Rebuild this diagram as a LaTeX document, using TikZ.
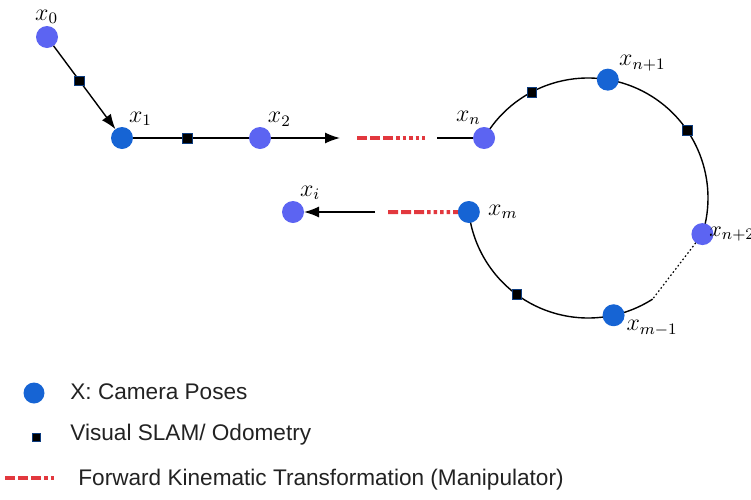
\documentclass[tikz,border=0pt]{standalone}
\usepackage{fontspec}
\setmainfont{Liberation Sans}
\usetikzlibrary{arrows.meta}
\definecolor{darkpose}{RGB}{22, 100, 212}
\definecolor{lightpose}{RGB}{92, 100, 242}
\definecolor{fkred}{RGB}{226, 56, 62}
\definecolor{legendtext}{RGB}{34, 34, 34}

\begin{document}
\begin{tikzpicture}[
    x=0.5pt, y=0.5pt,
    pose/.style={
        circle,
        minimum size=11pt,
        inner sep=0pt,
        outer sep=0pt
    },
    darkp/.style={pose, fill=darkpose},
    lightp/.style={pose, fill=lightpose},
    odo/.style={
        draw=darkpose!60!black,
        fill=black,
        line width=0.3pt,
        minimum size=4.8pt,
        inner sep=0pt
    },
    link/.style={line width=0.7pt, black},
    arrowlink/.style={link, -{Latex[length=7.5pt, width=5.5pt]}},
    fk/.style={
        line width=2pt,
        fkred,
        dash pattern=on 5pt off 1.5pt on 5pt off 1.5pt on 5pt off 1.5pt
                     on 1.75pt off 1.5pt on 1.75pt off 1.5pt on 1.75pt off 1.5pt on 1.75pt off 1.5pt
    },
    lbl/.style={font=\fontsize{12}{14}\selectfont, inner sep=1pt, label distance=0pt},
    txt/.style={font=\fontsize{11.3}{13.5}\selectfont, text=legendtext, anchor=west, inner sep=0pt}
]
\useasboundingbox (0,0) rectangle (751,-499);

% loop around the centre
\coordinate (C) at (588,-198);
\coordinate (P) at ([shift={(-57.4:120)}]C);
\draw[link] ([shift={(150:120)}]C) arc[start angle=150, end angle=-17.5, radius=60pt];
\draw[link] (P) arc[start angle=-57.4, end angle=-173.3, radius=60pt];

% camera poses
\node[lightp, label={[lbl]92:$x_0$}] (x0) at (47,-37) {};
\node[darkp, label={[lbl]65:$x_1$}] (x1) at (122,-138) {};
\node[lightp, label={[lbl]60:$x_2$}] (x2) at (260,-138) {};
\node[lightp, label={[lbl]95:$x_n$}] (xn) at ([shift={(150:120)}]C) {};
\node[darkp, label={[lbl]35:$x_{n+1}$}] (xn1) at ([shift={(80.5:120)}]C) {};
\node[lightp, label={[lbl, font=\fontsize{11}{13}\selectfont, inner sep=0.3pt, label distance=-2.5pt]0:$x_{n+2}$}] (xn2) at ([shift={(-17.5:120)}]C) {};
\node[darkp, label={[lbl]-15:$x_{m-1}$}] (xm1) at ([shift={(-77.7:120)}]C) {};
\node[darkp, label={[lbl, label distance=3pt]0:$x_m$}] (xm) at ([shift={(186.7:120)}]C) {};
\node[lightp, label={[lbl]65:$x_i$}] (xi) at (293,-212) {};

% odometry marks on the loop
\node[odo] (o3) at ([shift={(118:120)}]C) {};
\node[odo] (o4) at ([shift={(34.4:120)}]C) {};
\node[odo] (o5) at ([shift={(-126.4:120)}]C) {};

% free ends
\coordinate (a2) at (340,-138);
\coordinate (f1) at (357,-138);
\coordinate (f2) at (425,-138);
\coordinate (a3) at (437,-138);
\coordinate (b1) at (375,-212);
\coordinate (f3) at (388,-212);

\draw[arrowlink] (x0) -- node[odo, pos=0.42] (o1) {} (x1);
\draw[link] (x1) -- node[odo, pos=0.47] (o2) {} (x2);
\draw[arrowlink] (x2) -- (a2);
\draw[fk] (f1) -- (f2);
\draw[link] (a3) -- (xn);
\draw[link, line width=0.6pt, dash pattern=on 0.8pt off 1.2pt] (xn2) -- (P);
\draw[arrowlink] (b1) -- (xi);
\draw[fk] (f3) -- (xm.west);

% legend
\node[darkp, minimum size=10.5pt] (lgpose) at (34,-393) {};
\node[txt] (lgposetxt) at (70,-392) {X: Camera Poses};
\node[odo, minimum size=4.2pt] (lgodo) at (36,-437) {};
\node[txt] (lgodotxt) at (70,-435) {Visual SLAM/ Odometry};
\coordinate (lgf1) at (5,-478);
\coordinate (lgf2) at (55,-478);
\draw[fk] (lgf1) -- (lgf2);
\node[txt] (lgfktxt) at (78,-480) {Forward Kinematic Transformation (Manipulator)};

\end{tikzpicture}
\end{document}
